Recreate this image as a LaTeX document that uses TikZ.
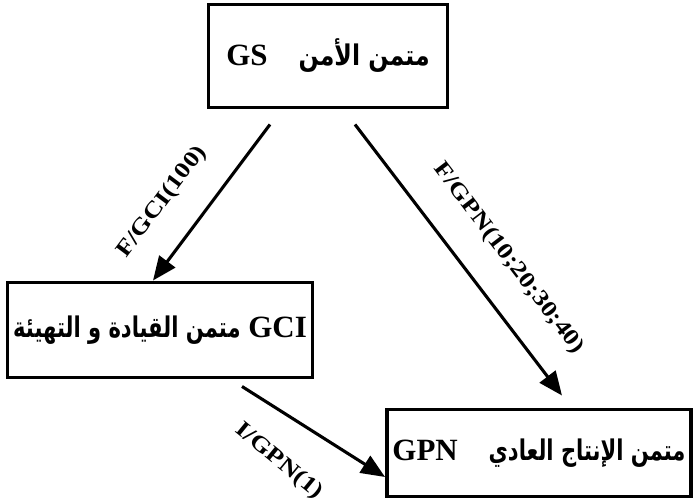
\documentclass[tikz,border=0pt]{standalone}
\usepackage{fontspec}
\setmainfont{Liberation Serif}
\newfontfamily\arabicfont[Script=Arabic,Scale=0.92]{DejaVu Sans}
\TeXXeTstate=1
\usetikzlibrary{arrows.meta, calc}
\newcommand\px{0.025cm}
\tikzset{
  mbox/.style={rectangle, draw, line width=2.8pt, inner sep=0pt, align=center,
               font=\fontsize{22}{26}\selectfont\bfseries},
  arr/.style={-{Triangle[length=17pt, width=14pt]}, line width=2.2pt},
  lbl/.style={font=\fontsize{16}{19}\selectfont\bfseries, sloped, inner sep=0pt},
}
\newcommand\stretched[1]{\scalebox{1.2}[1]{#1}}
\newcommand\arab[2]{\scalebox{#1}[1]{\arabicfont #2}}

\begin{document}
\begin{tikzpicture}[x=\px, y=-\px]
  \useasboundingbox (0,0) rectangle (696,503);

  \node[mbox, minimum width=239*\px, minimum height=103*\px] (gs) at (328,56)
    {GS\quad\arab{0.83}{\beginR متمن الأمن\endR}};
  \node[mbox, minimum width=305*\px, minimum height=95*\px] (gci) at (160,330)
    {\arab{0.74}{\beginR متمن القيادة و التهيئة\endR} GCI};
  \node[mbox, minimum width=304*\px, minimum height=87*\px] (gpn) at (539,453)
    {GPN\quad\arab{0.74}{\beginR متمن الإنتاج العادي\endR}};

  \draw[arr] ($(gs.south)+(-58,15)$) -- node[lbl, pos=0.65, above=0.7cm] {\stretched{F/GCI(100)}} ($(gci.north)+(-7,0)$);
  \draw[arr] ($(gs.south)+(27,15)$) -- node[lbl, pos=0.585, above=0.72cm] {\stretched{F/GPN(10;20;30;40)}} ($(gpn.north)+(23,-12)$);
  \draw[arr] ($(gci.south)+(82,7)$) -- node[lbl, pos=0.43, below=0.8cm, rotate=-7] {\stretched{I/GPN(1)}} ($(gpn.west)+(0,24)$);
\end{tikzpicture}
\end{document}
